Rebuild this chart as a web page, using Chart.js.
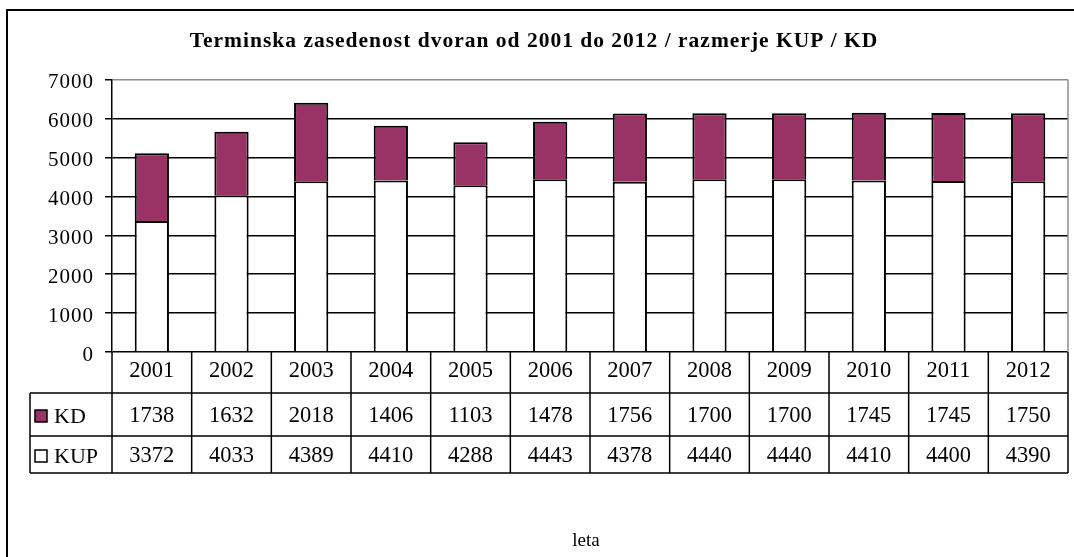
<!DOCTYPE html>
<html>
<head>
<meta charset="utf-8">
<script src="https://cdn.jsdelivr.net/npm/chart.js@4.4.1/dist/chart.umd.min.js"></script>
<style>
  html, body { margin: 0; padding: 0; background: #fff; }
  canvas { display: block; }
</style>
</head>
<body>
<canvas id="chart" width="1074" height="557"></canvas>
<script>
const years = ['2001', '2002', '2003', '2004', '2005', '2006', '2007', '2008', '2009', '2010', '2011', '2012']
const kdValues = [1738, 1632, 2018, 1406, 1103, 1478, 1756, 1700, 1700, 1745, 1745, 1750]
const kupValues = [3372, 4033, 4389, 4410, 4288, 4443, 4378, 4440, 4440, 4410, 4400, 4390]
const seriesNames = ['KD', 'KUP']
const titleText = 'Terminska zasedenost dvoran od 2001 do 2012 / razmerje KUP / KD'
const axisTitle = 'leta'

const serif = "'Liberation Serif', 'Times New Roman', serif"
const purple = '#993366'
const spacing = '1px'

// canvas resets letterSpacing on resize, so set it before layout and before draw
const letterSpacing = {
  id: 'letterSpacing',
  beforeUpdate(chart) { chart.ctx.letterSpacing = spacing },
  beforeDraw(chart) { chart.ctx.letterSpacing = spacing }
}

const frame = {
  id: 'frame',
  beforeDraw(chart) {
    const { ctx, width, height } = chart
    ctx.save()
    ctx.fillStyle = '#fff'
    ctx.fillRect(0, 0, width, height)
    ctx.strokeStyle = '#000'
    ctx.lineWidth = 2
    ctx.strokeRect(7, 10, width + 10, height + 10)
    ctx.restore()
  },
  beforeDatasetsDraw(chart) {
    const { ctx, chartArea: a } = chart
    ctx.save()
    ctx.strokeStyle = '#8c8c8c'
    ctx.lineWidth = 1.5
    ctx.beginPath()
    ctx.moveTo(a.right, a.top)
    ctx.lineTo(a.right, a.bottom)
    ctx.stroke()
    ctx.restore()
  }
}

// data table under the plot: year row, KD row, KUP row
const dataTable = {
  id: 'dataTable',
  afterDraw(chart) {
    const { ctx, chartArea: a, scales: { x } } = chart
    const rowLines = [41, 84, 121]
    const textY = [19, 64, 104]
    const keyLeft = 30
    const half = (a.right - a.left) / years.length / 2
    const tableBottom = a.bottom + rowLines[2]

    ctx.save()
    ctx.letterSpacing = '0px'
    ctx.strokeStyle = '#000'
    ctx.lineWidth = 1.5
    ctx.beginPath()
    rowLines.forEach((off) => {
      ctx.moveTo(keyLeft, a.bottom + off)
      ctx.lineTo(a.right, a.bottom + off)
    })
    ctx.moveTo(keyLeft, a.bottom + rowLines[0])
    ctx.lineTo(keyLeft, tableBottom)
    ctx.moveTo(a.left, a.bottom)
    ctx.lineTo(a.left, tableBottom)
    years.forEach((_, i) => {
      const xb = x.getPixelForValue(i) + half
      ctx.moveTo(xb, a.bottom)
      ctx.lineTo(xb, tableBottom)
    })
    ctx.stroke()

    ctx.fillStyle = '#000'
    ctx.font = `22.5px ${serif}`
    ctx.textAlign = 'center'
    ctx.textBaseline = 'middle'
    const rows = [years, kdValues, kupValues]
    rows.forEach((row, r) => {
      const y = a.bottom + textY[r]
      row.forEach((v, i) => ctx.fillText(String(v), x.getPixelForValue(i), y))
    })

    // legend keys inside the table
    const keyColors = [purple, '#fff']
    ctx.font = `22px ${serif}`
    ctx.textAlign = 'left'
    seriesNames.forEach((name, k) => {
      const y = a.bottom + textY[k + 1]
      ctx.fillStyle = keyColors[k]
      ctx.fillRect(35, y - 6, 12, 12)
      ctx.lineWidth = 1.5
      ctx.strokeRect(35, y - 6, 12, 12)
      ctx.fillStyle = '#000'
      ctx.fillText(name, 54, y + 1)
    })

    ctx.textAlign = 'center'
    ctx.font = `19px ${serif}`
    ctx.fillText(axisTitle, 586, 541)
    ctx.restore()
  }
}

new Chart(document.getElementById('chart'), {
  type: 'bar',
  data: {
    labels: years,
    datasets: [
      {
        label: seriesNames[1],
        data: kupValues,
        backgroundColor: '#fff',
        borderColor: '#000',
        borderWidth: 2
      },
      {
        label: seriesNames[0],
        data: kdValues,
        backgroundColor: purple,
        borderColor: '#000',
        borderWidth: 2
      }
    ]
  },
  options: {
    responsive: false,
    animation: false,
    layout: { padding: { left: 0, right: 6, top: 0, bottom: 205 } },
    datasets: { bar: { barPercentage: 0.43, categoryPercentage: 1 } },
    scales: {
      x: { stacked: true, display: false },
      y: {
        stacked: true,
        min: 0,
        max: 7000,
        afterFit(scale) { scale.width = 112 },
        ticks: {
          stepSize: 1000,
          color: '#000',
          padding: 11,
          labelOffset: 3,
          font: { family: serif, size: 21 },
          callback: (v) => String(v)
        },
        grid: {
          color: (c) => (c.tick && c.tick.value === 7000 ? '#8c8c8c' : '#000'),
          tickColor: '#000',
          tickLength: 7,
          lineWidth: 1.5
        },
        border: { color: '#000', width: 1.5 }
      }
    },
    plugins: {
      legend: { display: false },
      tooltip: { enabled: false },
      title: {
        display: true,
        text: titleText,
        color: '#000',
        font: { family: serif, size: 21.5, weight: 'bold', lineHeight: 1.2 },
        padding: { top: 29, bottom: 25 }
      }
    }
  },
  plugins: [letterSpacing, frame, dataTable]
})
</script>
</body>
</html>
